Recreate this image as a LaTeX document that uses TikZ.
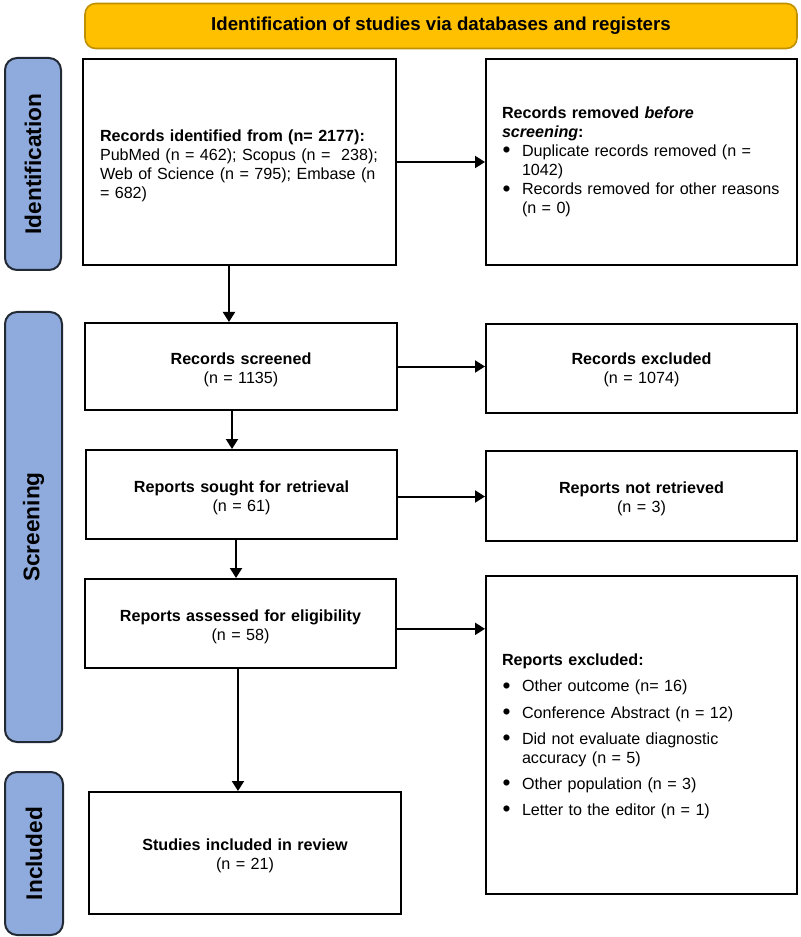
\documentclass[tikz,border=0pt]{standalone}
\usepackage{fontspec}
\setmainfont{Liberation Sans}
\usetikzlibrary{arrows.meta}
\definecolor{gold}{HTML}{FFC000}
\definecolor{goldline}{HTML}{BF9000}
\definecolor{sideblue}{HTML}{8FAADC}
\definecolor{sideline}{HTML}{222A35}
\newcommand\bodyfont{\fontsize{12.1}{14.3}\selectfont}
\newcommand\bulletmark{\makebox[15pt][l]{\hspace{0.5pt}{\fontsize{17}{14}\selectfont\raisebox{-0.06em}{•}}}}
\newcommand\bitem{\par\noindent\bulletmark}
\newcommand\bcont{\par\noindent\hspace*{15pt}}
\newcommand\bitemsp{\par\vspace{5.25pt}\noindent\bulletmark}
\newcommand\topgap[1]{\rule{0pt}{\dimexpr 8.9pt+#1\relax}}
\begin{document}
\begin{tikzpicture}[x=0.75pt,y=-0.75pt,
  sz/.style 2 args={minimum width=#1*0.75pt, minimum height=#2*0.75pt},
  box/.style={draw=black, line width=1.5pt, fill=white, inner sep=0pt, align=center, text width=300*0.75pt, font=\bodyfont},
  lbox/.style={box, align=left, text width=279*0.75pt},
  side/.style={draw=sideline, line width=1.5pt, fill=sideblue, rounded corners=9pt, inner sep=0pt, rotate=90, font=\fontsize{17}{20}\selectfont\bfseries},
  titlebox/.style={draw=goldline, line width=1.2pt, fill=gold, rounded corners=8pt, inner sep=0pt, font=\fontsize{14}{16}\selectfont\bfseries},
  arr/.style={line width=1.5pt, -{Triangle[length=7.5pt,width=9pt]}}
]
\useasboundingbox (0,0) rectangle (800,937);

\node[titlebox, sz={712}{45}] (title) at (441,26) {Identification of studies via databases and registers};

\node[side, sz={212}{56}] (sideId) at (33,164) {Identification};
\node[side, sz={430}{57}] (sideScr) at (33.5,527) {Screening};
\node[side, sz={163}{58}] (sideInc) at (34,853.5) {Included};

\node[lbox, sz={313}{206}] (ident) at (239.5,162) {\topgap{6pt}\textbf{Records identified from (n= 2177):}\\\mbox{PubMed (n = 462); Scopus (n =\ \ 238);}\\\mbox{Web of Science (n = 795); Embase (n}\\= 682)};

\node[lbox, sz={311}{206}] (removed) at (641.5,162) {\mbox{\bfseries Records removed \textit{before}}\\\mbox{\bfseries\itshape screening\upshape:}
\bitem Duplicate records removed (n =
\bcont 1042)
\bitem Records removed for other reasons
\bcont (n = 0)\par\vspace{9pt}};

\node[box, sz={312}{87}] (screened) at (241,366.5) {\topgap{4.5pt}\textbf{Records screened}\\(n = 1135)};
\node[box, sz={311}{89}] (excluded) at (641.5,368.5) {\topgap{2pt}\textbf{Records excluded}\\(n = 1074)};

\node[box, sz={311}{89}] (sought) at (241.5,494.5) {\topgap{4.5pt}\textbf{Reports sought for retrieval}\\(n = 61)};
\node[box, sz={311}{90}] (notret) at (641.5,496) {\topgap{4.5pt}\textbf{Reports not retrieved}\\(n = 3)};

\node[box, sz={311}{89}] (assessed) at (240.5,623.5) {\topgap{4.5pt}\textbf{Reports assessed for eligibility}\\(n = 58)};
\node[lbox, sz={311}{318}] (repexcl) at (641.5,735) {\topgap{2pt}\textbf{Reports excluded:}
\bitemsp Other outcome (n= 16)
\bitemsp Conference Abstract (n = 12)
\bitemsp Did not evaluate diagnostic
\bcont accuracy (n = 5)
\bitemsp Other population (n = 3)
\bitemsp Letter to the editor (n = 1)};

\node[box, sz={312}{122}] (included) at (245,853) {\topgap{4.5pt}\textbf{Studies included in review}\\(n = 21)};

\draw[arr] (ident.east) -- (removed.west);
\draw[arr] (screened.east) -- (screened.east -| excluded.west);
\draw[arr] ([yshift=-1.5pt]sought.east) -- ([yshift=-1.5pt]sought.east -| notret.west);
\draw[arr] ([yshift=-4pt]assessed.east) -- ([yshift=-4pt]assessed.east -| repexcl.west);

\draw[arr] ([xshift=-7.9pt]ident.south) -- ([xshift=-7.9pt]ident.south |- screened.north);
\draw[arr] ([xshift=-6.75pt]screened.south) -- ([xshift=-6.75pt]screened.south |- sought.north);
\draw[arr] ([xshift=-4.1pt]sought.south) -- ([xshift=-4.1pt]sought.south |- assessed.north);
\draw[arr] ([xshift=-1.9pt]assessed.south) -- ([xshift=-1.9pt]assessed.south |- included.north);
\end{tikzpicture}
\end{document}
